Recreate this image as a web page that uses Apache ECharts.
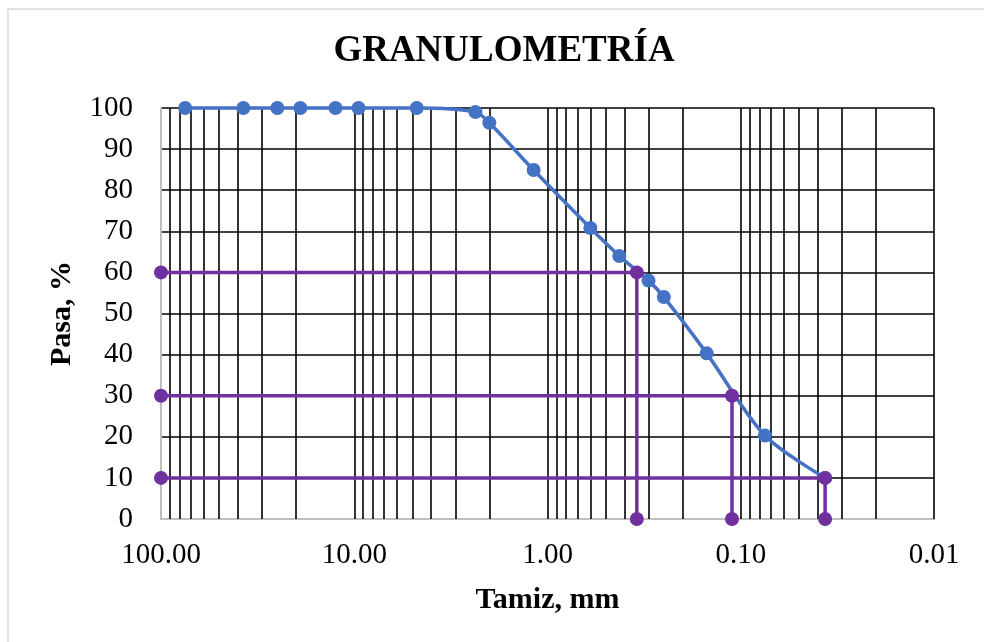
<!DOCTYPE html>
<html>
<head>
<meta charset="utf-8">
<script src="https://cdn.jsdelivr.net/npm/echarts@6/dist/echarts.min.js"></script>
<style>html,body{margin:0;padding:0;background:#fff}#c{width:984px;height:642px}</style>
</head>
<body>
<div id="c"></div>
<script>
// Sieve opening (mm) and percent passing
const sieveSizes = [75, 37.5, 25, 19, 12.5, 9.5, 4.75, 2.36, 2.0, 1.18, 0.6, 0.425, 0.3, 0.25, 0.15, 0.075, 0.0366];
const percentPassing = [100, 100, 100, 100, 100, 100, 100, 99.0, 96.4, 84.9, 70.8, 64.0, 58.0, 54.0, 40.3, 20.3, 10];
// Characteristic diameters D60, D30, D10
const dSizes = [0.345, 0.111, 0.0366];
const dPercents = [60, 30, 10];
// Axis ticks
const xTickValues = [100, 10, 1, 0.1, 0.01];
const xTickLabels = ['100.00', '10.00', '1.00', '0.10', '0.01'];
const xGridValues = [90, 80, 70, 60, 50, 40, 30, 20, 10, 9, 8, 7, 6, 5, 4, 3, 2, 1,
  0.9, 0.8, 0.7, 0.6, 0.5, 0.4, 0.3, 0.2, 0.1, 0.09, 0.08, 0.07, 0.06, 0.05, 0.04, 0.03, 0.02, 0.01];

const FONT = "'Liberation Serif', 'Times New Roman', serif";
const BLUE = '#4472C4';
const PURPLE = '#7030A0';

const chart = echarts.init(document.getElementById('c'), null, {renderer: 'canvas'});

const purpleSeries = dSizes.map((d, i) => ({
  type: 'line',
  data: [[100, dPercents[i]], [d, dPercents[i]], [d, 0]],
  symbol: 'circle',
  symbolSize: 14,
  clip: false,
  itemStyle: {color: PURPLE},
  lineStyle: {color: PURPLE, width: 3.5},
  z: 4,
  silent: true
}));

chart.setOption({
  animation: false,
  backgroundColor: '#fff',
  graphic: [{
    type: 'rect',
    shape: {x: 8, y: 9, width: 1000, height: 700},
    style: {fill: 'none', stroke: '#d9d9d9', lineWidth: 1.5},
    z: -10, silent: true
  }],
  title: {
    text: 'GRANULOMETRÍA',
    left: 499,
    top: 28,
    textAlign: 'center',
    textStyle: {fontFamily: FONT, fontSize: 37, fontWeight: 'bold', color: '#000'}
  },
  grid: {left: 161, right: 50, top: 108, bottom: 123, containLabel: false},
  xAxis: {
    type: 'log',
    logBase: 10,
    min: 0.01,
    max: 100,
    inverse: true,
    splitNumber: 4,
    name: 'Tamiz, mm',
    nameLocation: 'middle',
    nameGap: 66,
    nameTextStyle: {fontFamily: FONT, fontSize: 30, fontWeight: 'bold', color: '#000'},
    axisLine: {onZero: false, lineStyle: {color: '#bfbfbf', width: 2}},
    axisTick: {show: false},
    splitLine: {show: false},
    axisLabel: {
      margin: 22,
      fontFamily: FONT, fontSize: 29, color: '#000',
      formatter: (v) => {
        const i = xTickValues.findIndex(t => Math.abs(Math.log10(t) - Math.log10(v)) < 1e-6);
        return i >= 0 ? xTickLabels[i] : '';
      }
    }
  },
  yAxis: {
    type: 'value',
    min: 0,
    max: 100,
    interval: 10,
    name: 'Pasa, %',
    nameLocation: 'middle',
    nameGap: 84,
    nameTextStyle: {fontFamily: FONT, fontSize: 30, fontWeight: 'bold', color: '#000'},
    axisLine: {show: true, onZero: false, lineStyle: {color: '#bfbfbf', width: 2}},
    axisTick: {show: false},
    splitLine: {show: true, showMinLine: false, lineStyle: {color: '#000', width: 1.6}},
    axisLabel: {margin: 28, fontFamily: FONT, fontSize: 29, color: '#000'}
  },
  series: [
    {
      type: 'line',
      data: [],
      silent: true,
      z: 1,
      markLine: {
        silent: true,
        z: 1,
        symbol: ['none', 'none'],
        label: {show: false},
        lineStyle: {color: '#000', width: 1.6, type: 'solid'},
        emphasis: {disabled: true},
        data: xGridValues.map(v => ({xAxis: v}))
      }
    },
    {
      type: 'line',
      data: sieveSizes.map((s, i) => [s, percentPassing[i]]),
      smooth: 0.3,
      symbol: 'circle',
      symbolSize: 14,
      clip: false,
      itemStyle: {color: BLUE},
      lineStyle: {color: BLUE, width: 3.5},
      z: 3,
      silent: true
    },
    ...purpleSeries
  ]
});
</script>
</body>
</html>
